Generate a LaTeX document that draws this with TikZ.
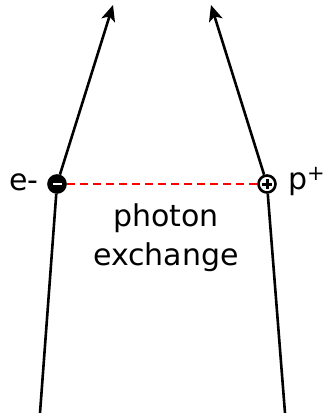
\documentclass[tikz,border=0pt]{standalone}
\usepackage{fontspec}
\setmainfont{DejaVu Sans}
\usetikzlibrary{arrows.meta}
\begin{document}
\begin{tikzpicture}[x=1pt,y=-1pt,
  particle/.style={circle,draw=black,line width=2.6pt,minimum size=17pt,inner sep=0pt},
  track/.style={line width=2.6pt,black},
  arrowtrack/.style={track,-{Stealth[length=16pt,width=14pt,inset=4pt]}},
  exch/.style={red,line width=2.4pt,dash pattern=on 8pt off 5pt},
  lbl/.style={font=\fontsize{30}{36}\selectfont,inner sep=0pt}]
\useasboundingbox (0,0) rectangle (328,413);
% particles
\node[particle,fill=black] (e) at (57,184) {};
\node[particle,fill=white] (p) at (267,184) {};
\draw[white,line width=2.6pt] ([xshift=-4.5pt]e.center) -- ([xshift=4.5pt]e.center);
\draw[black,line width=3pt] ([xshift=-5pt]p.center) -- ([xshift=5pt]p.center)
  ([yshift=-5pt]p.center) -- ([yshift=5pt]p.center);
% track ends
\coordinate (eb) at (40,413);
\coordinate (pb) at (285,413);
\coordinate (et) at (113,5);
\coordinate (pt) at (211,5);
\draw[track] (eb) -- (e);
\draw[track] (pb) -- (p);
\draw[arrowtrack] (e) -- (et);
\draw[arrowtrack] (p) -- (pt);
% photon
\draw[exch] (e) -- (p);
% labels
\node[lbl,anchor=east] (el) at (39,182) {e-};
\node[lbl,anchor=west] (pl) at (288,182) {p\textsuperscript{+}};
\node[lbl,align=center] (ph) at (166,238) {photon\\[3pt]exchange};
\end{tikzpicture}
\end{document}
